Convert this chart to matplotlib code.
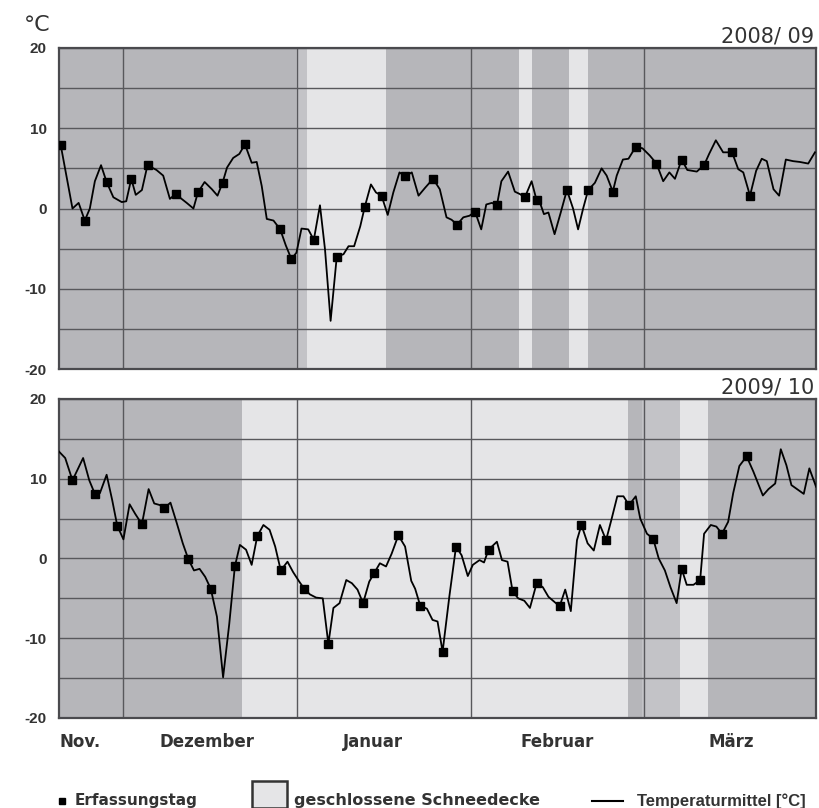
import matplotlib
matplotlib.use("Agg")
import matplotlib.pyplot as plt
import numpy as np
from matplotlib.lines import Line2D
from matplotlib.patches import Rectangle

# x axis: days from chart start, month boundaries equally spaced
X_MAX = 135.2
MONTH_LINES = [11.5, 42.5, 73.5, 104.5]
MONTHS = ["Nov.", "Dezember", "Januar", "Februar", "März"]
MONTH_POS = [0, 26.5, 56, 89, 120]

# winter 2008/09
days_0809 = [0.3, 2.4, 3.5, 4.6, 5.5, 6.4, 7.5, 8.5, 9.7, 11.2, 12.0, 12.9, 13.7, 14.8, 15.8,
             17.4, 18.6, 19.8, 20.8, 22.8, 24.0, 24.8, 26.0, 27.3, 28.3, 29.2, 30.0, 31.1, 32.2,
             33.2, 34.4, 35.3, 36.2, 37.1, 38.3, 39.5, 40.5, 41.5, 42.4, 43.3, 44.5, 45.5, 46.6,
             47.5, 48.5, 49.6, 50.8, 51.7, 52.7, 53.8, 54.6, 55.7, 56.6, 57.6, 58.7, 59.7, 60.8,
             61.8, 63.0, 64.2, 65.4, 66.8, 68.0, 69.2, 70.1, 71.1, 72.2, 73.3, 74.3, 75.4, 76.3,
             77.3, 78.2, 79.0, 80.2, 81.4, 82.3, 83.2, 84.4, 85.3, 85.9, 86.6, 87.4, 88.5, 89.6,
             90.7, 91.8, 92.7, 93.6, 94.5, 95.7, 96.9, 97.8, 98.9, 99.6, 100.7, 101.7, 103.0,
             104.2, 105.5, 106.7, 107.9, 109.0, 110.0, 111.2, 112.2, 113.9, 115.2, 116.1, 117.3,
             118.6, 120.2, 121.3, 122.2, 123.4, 124.5, 125.5, 126.4, 127.6, 128.6, 129.8, 131.1,
             132.3, 133.8, 135.0]
temp_0809 = [7.9, 0.0, 0.7, -1.5, 0.0, 3.4, 5.4, 3.3, 1.4, 0.8, 0.9, 3.7, 1.7, 2.3, 5.4,
             4.8, 4.1, 1.2, 1.8, 0.7, 0.0, 2.0, 3.3, 2.4, 1.6, 3.2, 5.1, 6.3, 6.8,
             8.0, 5.7, 5.8, 2.8, -1.3, -1.5, -2.6, -4.6, -6.3, -5.5, -2.5, -2.6, -3.9, 0.4,
             -5.1, -14.0, -6.0, -5.7, -4.7, -4.7, -2.2, 0.2, 3.0, 2.0, 1.6, -0.8, 2.0, 4.5,
             4.0, 4.5, 1.6, 2.6, 3.7, 2.4, -1.1, -1.4, -2.0, -1.1, -0.9, -0.4, -2.6, 0.5,
             0.7, 0.4, 3.4, 4.6, 2.1, 1.8, 1.4, 3.4, 1.0, 0.7, -0.7, -0.5, -3.2, -0.5,
             2.3, 0.0, -2.6, 0.0, 2.3, 3.2, 5.0, 4.1, 2.1, 4.1, 6.1, 6.2, 7.7,
             7.5, 6.6, 5.6, 3.4, 4.5, 3.7, 6.1, 4.8, 4.6, 5.4, 6.8, 8.5,
             7.0, 7.0, 4.9, 4.5, 1.6, 4.7, 6.2, 5.9, 2.4, 1.6, 6.1, 5.9,
             5.8, 5.6, 7.0]
survey_0809 = [0.3, 4.6, 8.5, 12.9, 15.8, 20.8, 24.8, 29.2, 33.2, 39.5, 41.5, 45.5, 49.6, 54.6,
               57.6, 61.8, 66.8, 71.1, 74.3, 78.2, 83.2, 85.3, 90.7, 94.5, 98.9, 103.0, 106.7,
               111.2, 115.2, 120.2, 123.4]
snow_0809 = [(44.3, 58.4), (82.1, 84.5), (91.1, 94.5)]
patchy_0809 = [(42.3, 44.3)]

# winter 2009/10
days_0910 = [0.0, 1.1, 2.4, 4.3, 5.4, 6.4, 7.3, 8.5, 9.5, 10.4, 11.5, 12.6, 13.6, 14.8, 16.0,
             17.0, 18.0, 18.8, 19.9, 21.0, 22.1, 23.1, 24.1, 25.1, 26.1, 27.1, 28.2, 29.3, 30.4,
             31.4, 32.3, 33.4, 34.4, 35.4, 36.5, 37.6, 38.6, 39.6, 40.8, 41.8, 42.9, 43.8, 44.8,
             45.9, 47.1, 48.1, 49.0, 50.1, 51.3, 52.3, 53.3, 54.3, 55.4, 56.3, 57.3, 58.4, 59.4,
             60.6, 61.8, 62.9, 63.6, 64.5, 65.7, 66.7, 67.6, 68.5, 69.7, 70.9, 71.9, 73.0, 73.9,
             75.1, 75.9, 76.7, 78.2, 79.1, 80.1, 81.0, 82.0, 83.1, 84.1, 85.3, 86.4, 87.4, 88.4,
             89.4, 90.4, 91.4, 92.5, 93.3, 94.4, 95.5, 96.6, 97.7, 98.7, 99.7, 100.8, 101.8,
             103.0, 103.8, 105.0, 106.1, 107.1, 108.2, 109.2, 110.3, 111.2, 112.1, 113.3, 114.5,
             115.2, 116.4, 117.4, 118.4, 119.5, 120.4, 121.5, 122.8, 124.0, 125.7, 126.7, 127.9,
             128.9, 129.9, 130.8, 132.0, 133.0, 134.0, 135.2]
temp_0910 = [13.4, 12.6, 9.8, 12.6, 9.8, 8.1, 8.2, 10.5, 7.3, 4.1, 2.4, 6.8, 5.6, 4.3, 8.7,
             6.9, 6.7, 6.3, 7.0, 4.5, 1.9, -0.1, -1.5, -1.3, -2.3, -3.8, -7.3, -14.9, -8.2,
             -1.0, 1.7, 1.1, -0.8, 2.8, 4.2, 3.6, 1.5, -1.5, -0.4, -1.7, -2.9, -3.8, -4.5,
             -4.9, -5.0, -10.7, -6.2, -5.6, -2.7, -3.1, -3.9, -5.6, -2.9, -1.8, -0.6, -1.0, 0.6,
             2.9, 1.5, -2.8, -3.8, -5.9, -6.3, -7.7, -7.9, -11.7, -4.8, 1.5, 0.4, -2.2, -0.8,
             -0.2, -0.5, 1.1, 2.1, -0.2, -0.4, -4.1, -5.0, -5.3, -6.2, -3.1, -3.6, -4.8, -5.4,
             -6.0, -3.9, -6.6, 2.3, 4.2, 1.9, 1.0, 4.2, 2.3, 5.0, 7.8, 7.8, 6.7,
             7.8, 5.0, 3.1, 2.5, 0.0, -1.5, -3.6, -5.6, -1.3, -3.3, -3.3, -2.7,
             3.1, 4.2, 4.0, 3.1, 4.6, 8.2, 11.6, 12.8, 10.9, 7.9, 8.7, 9.4,
             13.7, 11.7, 9.2, 8.6, 8.1, 11.3, 9.0]
survey_0910 = [2.4, 6.4, 10.4, 14.8, 18.8, 23.1, 27.1, 31.4, 35.4, 39.6, 43.8, 48.1, 54.3, 56.3,
               60.6, 64.5, 68.5, 70.9, 76.7, 81.0, 85.3, 89.4, 93.3, 97.7, 101.8, 106.1, 111.2,
               114.5, 118.4, 122.8]
snow_0910 = [(32.7, 101.6), (110.9, 115.9)]
patchy_0910 = [(104.1, 110.9)]

DARK = "#b6b6ba"
PATCHY = "#c3c3c7"
SNOW = "#e5e5e7"
GRID = "#58585c"
TEXT = "#333333"
FONT = "Liberation Sans"
WIDE = "DejaVu Sans"


def draw_panel(ax, days, temps, survey, snow, patchy, title):
    ax.set_facecolor(DARK)
    for start, end in patchy:
        ax.axvspan(start, end, color=PATCHY, lw=0, zorder=0)
    for start, end in snow:
        ax.axvspan(start, end, color=SNOW, lw=0, zorder=0)

    ax.plot(days, temps, color="black", lw=1.3, zorder=3)
    ax.plot(survey, np.interp(survey, days, temps), ls="none", marker="s",
            ms=5.2, color="black", zorder=4)

    ax.set_xlim(0, X_MAX)
    ax.set_ylim(-20, 20)
    ax.set_xticks(MONTH_LINES)
    ax.set_xticklabels([])
    yt = np.arange(-20, 21, 5)
    ax.set_yticks(yt)
    ax.set_yticklabels([f"{v}" if v % 10 == 0 else "" for v in yt],
                       fontsize=11, fontweight="bold", color=TEXT, family=FONT)
    ax.tick_params(length=0, pad=9)
    ax.grid(True, color=GRID, lw=1.0)
    ax.set_axisbelow(True)
    for sp in ax.spines.values():
        sp.set_color("#4a4a4e")
        sp.set_linewidth(1.6)
    ax.text(0.997, 1.004, title, transform=ax.transAxes, ha="right", va="bottom",
            fontsize=15, color=TEXT, family=WIDE)


fig = plt.figure(figsize=(8.2, 8.08), dpi=100)
ax_top = fig.add_axes([0.072, 0.5433, 0.9232, 0.3973])
ax_bot = fig.add_axes([0.072, 0.1114, 0.9232, 0.3948])

draw_panel(ax_top, days_0809, temp_0809, survey_0809, snow_0809, patchy_0809, "2008/ 09")
draw_panel(ax_bot, days_0910, temp_0910, survey_0910, snow_0910, patchy_0910, "2009/ 10")

for pos, name in zip(MONTH_POS, MONTHS):
    ax_bot.text(pos, -23, name, ha="left" if pos == 0 else "center", va="center",
                fontsize=12, fontweight="bold", color=TEXT, family=WIDE)

fig.text(0.029, 0.969, "°C", ha="left", va="center", fontsize=16, color=TEXT, family=WIDE)

# legend row
leg_y = 1 - 801 / 808
fig.add_artist(Line2D([62 / 820], [leg_y], marker="s", ms=5, color="black", ls="none"))
fig.text(75 / 820, leg_y, "Erfassungstag", ha="left", va="center",
         fontsize=11, fontweight="bold", color=TEXT, family=WIDE)
fig.add_artist(Rectangle((252 / 820, 1 - 808 / 808), 35 / 820, 27 / 808,
                         facecolor=SNOW, edgecolor="#333333", lw=1.8))
fig.text(294 / 820, leg_y, "geschlossene Schneedecke", ha="left", va="center",
         fontsize=11.5, fontweight="bold", color=TEXT, family=WIDE)
fig.add_artist(Line2D([592 / 820, 623 / 820], [leg_y, leg_y], color="black", lw=1.5))
fig.text(637 / 820, leg_y, "Temperaturmittel [°C]", ha="left", va="center",
         fontsize=12, fontweight="bold", color=TEXT, family=FONT)

fig.savefig("out.png", dpi=100)
